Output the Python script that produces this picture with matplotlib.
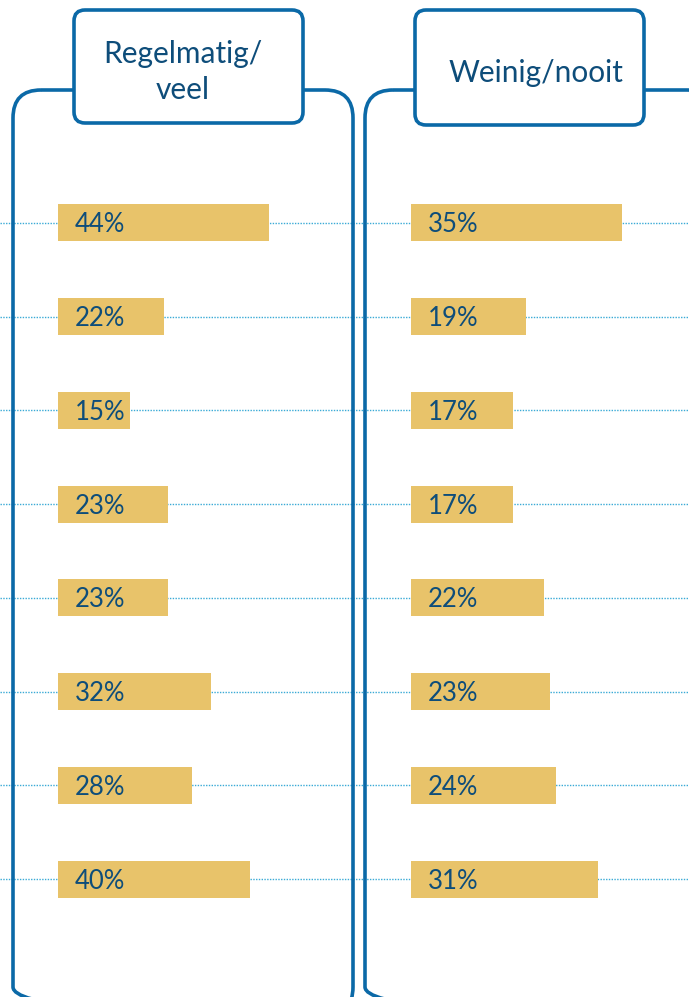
import matplotlib
matplotlib.use("Agg")
import matplotlib.pyplot as plt
from matplotlib.patches import FancyBboxPatch

# data
headers = ["Regelmatig/\nveel", "Weinig/nooit"]
regelmatig = [44, 22, 15, 23, 23, 32, 28, 40]
weinig = [35, 19, 17, 17, 22, 23, 24, 31]

BLUE = "#0b69a7"
TEXT = "#0e4d7a"
GOLD = "#e8c36a"
DOT = "#3aaad6"

W, H = 689, 997
fig = plt.figure(figsize=(W / 100, H / 100), dpi=100)
plt.rcParams["font.family"] = ["Lato", "DejaVu Sans"]

# background axes in pixel coords for the panel frames
bg = fig.add_axes([0, 0, 1, 1])
bg.set_xlim(0, W)
bg.set_ylim(H, 0)
bg.axis("off")

def fx(px):
    return px / W

def fy(py):
    return 1 - py / H

# rows area: 8 rows between y=176 and y=926 pixels
top, bottom = 176, 926
n = len(regelmatig)

# dotted guide lines across full width (behind everything)
lines_ax = fig.add_axes([0, fy(bottom), 1, fy(top) - fy(bottom)], zorder=0)
lines_ax.set_xlim(0, 1)
lines_ax.set_ylim(n - 0.5, -0.5)
lines_ax.axis("off")
for i in range(n):
    lines_ax.axhline(i, color=DOT, lw=1.0, ls=(0, (1, 1)))

# panel frames
bg.set_zorder(1)
bg.patch.set_alpha(0)
for x0, x1 in [(13, 353), (365, 715)]:
    bg.add_patch(FancyBboxPatch((x0, 90), x1 - x0, 925,
                                boxstyle="round,pad=0,rounding_size=28",
                                fc="none", ec=BLUE, lw=2.6))
for (x0, x1, y1), label, tx, ty in [((74, 303, 123), headers[0], 183, 72),
                                     ((415, 644, 125), headers[1], 536, 73)]:
    bg.add_patch(FancyBboxPatch((x0, 10), x1 - x0, y1 - 10,
                                boxstyle="round,pad=0,rounding_size=11",
                                fc="white", ec=BLUE, lw=2.6))
    bg.text(tx, ty, label, ha="center", va="center",
            fontsize=21.5, color=TEXT, linespacing=1.35)

# bar panels: each scaled so its max bar spans 211 px
for vals, x0 in [(regelmatig, 58), (weinig, 411)]:
    ax = fig.add_axes([fx(x0), fy(bottom), fx(211), fy(top) - fy(bottom)],
                      zorder=2)
    ax.patch.set_alpha(0)
    ax.barh(range(n), vals, height=0.395, color=GOLD)
    ax.set_xlim(0, max(vals))
    ax.set_ylim(n - 0.5, -0.5)
    ax.axis("off")
    for i, v in enumerate(vals):
        ax.annotate(f"{v}%", (0, i), xytext=(12.3, -1.5), textcoords="offset points",
                    ha="left", va="center", fontsize=18.5, color=TEXT)

fig.savefig("out.png", dpi=100)
